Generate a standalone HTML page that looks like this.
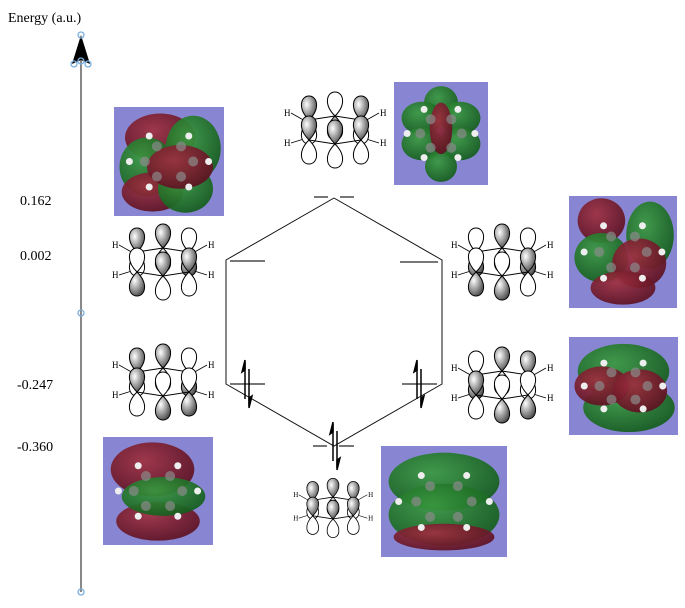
<!DOCTYPE html>
<html><head><meta charset="utf-8"><style>
html,body{margin:0;padding:0;background:#fff;width:685px;height:608px;overflow:hidden}
svg{display:block}
text{font-family:"Liberation Serif",serif}
</style></head><body>
<svg id="s" width="685" height="608" viewBox="0 0 685 608" xmlns="http://www.w3.org/2000/svg">
<defs>
<radialGradient id="sh" cx="0.35" cy="0.35" r="0.8"><stop offset="0" stop-color="#fff"/><stop offset="0.5" stop-color="#999"/><stop offset="1" stop-color="#333"/></radialGradient>
<radialGradient id="rd" cx="0.4" cy="0.35" r="0.7"><stop offset="0" stop-color="#a03040"/><stop offset="1" stop-color="#5a1020"/></radialGradient>
<radialGradient id="gr" cx="0.4" cy="0.35" r="0.7"><stop offset="0" stop-color="#3a9a40"/><stop offset="1" stop-color="#125a1a"/></radialGradient>
</defs>
<text x="8" y="22" font-size="14">Energy (a.u.)</text>
<line x1="81" y1="45" x2="81" y2="592" stroke="#888" stroke-width="2"/>
<polygon points="81,35 72,64 81,60 90,64" fill="#000"/>
<g fill="none" stroke="#7ab0e0" stroke-width="1.3">
<circle cx="81" cy="35" r="3"/><circle cx="74" cy="64" r="3"/><circle cx="81" cy="61" r="3"/><circle cx="88" cy="64" r="3"/>
<circle cx="81" cy="313" r="3"/><circle cx="81" cy="592" r="3"/></g>
<g font-size="14"><text x="20" y="205">0.162</text><text x="20" y="260">0.002</text><text x="17" y="389">-0.247</text><text x="17" y="451">-0.360</text></g>
<polyline points="334,198 226,260 226,384 334,446 442,384 442,260 334,198" fill="none" stroke="#111" stroke-width="1"/>
<g stroke="#777" stroke-width="2">
<line x1="314" y1="197" x2="328" y2="197"/><line x1="340" y1="197" x2="354" y2="197"/>
<line x1="230" y1="261" x2="265" y2="261"/><line x1="400" y1="262" x2="438" y2="262"/>
<line x1="230" y1="384" x2="265" y2="384"/><line x1="402" y1="384" x2="437" y2="384"/>
<line x1="313" y1="446" x2="327" y2="446"/><line x1="339" y1="446" x2="354" y2="446"/></g>
<g id="spins" stroke="#000" stroke-width="1.5" fill="#000"></g>
<g id="mos"></g>
<g id="draws"></g>
</svg>
<script>
var NS="http://www.w3.org/2000/svg";
function el(p,t,a){var e=document.createElementNS(NS,t);for(var k in a)e.setAttribute(k,a[k]);p.appendChild(e);return e;}
var sp=document.getElementById('spins');
[[246,384],[418,384],[334,446]].forEach(function(c){
 var x=c[0],y=c[1];
 el(sp,'line',{x1:x-1,y1:y-22,x2:x-1,y2:y+15});
 el(sp,'polygon',{points:(x-1)+','+(y-24)+' '+(x-4)+','+(y-12)+' '+(x-1)+','+(y-14)});
 el(sp,'line',{x1:x+3,y1:y-15,x2:x+3,y2:y+22});
 el(sp,'polygon',{points:(x+3)+','+(y+24)+' '+(x+6)+','+(y+12)+' '+(x+3)+','+(y+14)});
});
var mo=document.getElementById('mos');
var boxes=[[114,107,110,109],[394,82,94,103],[569,196,108,112],[569,337,109,98],[103,437,110,108],[381,446,126,111]];
var blobs=[
 [[0.42,0.28,0.32,0.22,'rd'],[0.72,0.38,0.25,0.3,'gr'],[0.3,0.55,0.25,0.27,'gr'],[0.35,0.78,0.28,0.18,'rd'],[0.65,0.75,0.25,0.22,'gr'],[0.6,0.55,0.3,0.2,'rd']],
 [[0.5,0.2,0.18,0.16,'gr'],[0.3,0.35,0.22,0.16,'gr'],[0.7,0.35,0.22,0.16,'gr'],[0.3,0.6,0.22,0.16,'gr'],[0.7,0.6,0.22,0.16,'gr'],[0.5,0.82,0.17,0.15,'gr'],[0.5,0.45,0.12,0.25,'rd']],
 [[0.3,0.22,0.22,0.2,'rd'],[0.75,0.35,0.22,0.3,'gr'],[0.3,0.55,0.25,0.22,'gr'],[0.65,0.6,0.25,0.22,'rd'],[0.5,0.82,0.3,0.15,'rd']],
 [[0.5,0.35,0.42,0.28,'gr'],[0.55,0.72,0.42,0.25,'gr'],[0.3,0.5,0.25,0.2,'rd'],[0.65,0.55,0.25,0.22,'rd']],
 [[0.45,0.3,0.38,0.25,'rd'],[0.5,0.78,0.38,0.18,'rd'],[0.55,0.55,0.38,0.18,'gr']],
 [[0.5,0.32,0.44,0.26,'gr'],[0.5,0.62,0.44,0.28,'gr'],[0.5,0.82,0.4,0.12,'rd']]];
boxes.forEach(function(b,i){
 el(mo,'rect',{x:b[0],y:b[1],width:b[2],height:b[3],fill:'#8886d2'});
 blobs[i].forEach(function(q){el(mo,'ellipse',{cx:b[0]+q[0]*b[2],cy:b[1]+q[1]*b[3],rx:q[2]*b[2],ry:q[3]*b[3],fill:'url(#'+q[4]+')','fill-opacity':0.92});});
 for(var k=0;k<6;k++){var a=k*Math.PI/3;el(mo,'circle',{cx:b[0]+b[2]*(0.5+0.22*Math.cos(a)),cy:b[1]+b[3]*(0.5+0.16*Math.sin(a)),r:5,fill:'#8a8a8a','fill-opacity':0.7});
 el(mo,'circle',{cx:b[0]+b[2]*(0.5+0.36*Math.cos(a)),cy:b[1]+b[3]*(0.5+0.27*Math.sin(a)),r:3.5,fill:'#eee'});}
});
var dr=document.getElementById('draws');
var atoms=[[-26,-10],[0,-14],[26,-10],[26,10],[0,14],[-26,10]];
function lobe(g,x,y,dir,sh){
 var L=24,w=8;
 var d='M'+x+','+y+' C'+(x-w*1.5)+','+(y+dir*L*0.5)+' '+(x-w)+','+(y+dir*L)+' '+x+','+(y+dir*L)+' C'+(x+w)+','+(y+dir*L)+' '+(x+w*1.5)+','+(y+dir*L*0.5)+' '+x+','+y+'Z';
 el(g,'path',{d:d,fill:sh?'url(#sh)':'#fff',stroke:'#000','stroke-width':1});
}
function drawing(cx,cy,s,pat){
 var g=el(dr,'g',{transform:'translate('+cx+','+cy+') scale('+s+')'});
 var Hs=[[-48,-14,-36],[-48,16,-36],[48,-14,36],[48,16,36]];
 Hs.forEach(function(h){el(g,'line',{x1:h[0]+(h[0]<0?4:-4),y1:h[1]-3,x2:h[2]-(h[2]<0?-8:8),y2:h[1]>0?8:-8,stroke:'#000','stroke-width':0.8});
 var t=el(g,'text',{x:h[0]-3,y:h[1],'font-size':9,'font-family':'Liberation Sans, sans-serif'});t.textContent='H';});
 var order=[0,1,2,5,4,3];
 order.forEach(function(i,j){var a=atoms[i];var up=pat[i];lobe(g,a[0],a[1],-1,up);lobe(g,a[0],a[1],1,!up);
  if(j==2){el(g,'polygon',{points:atoms.map(function(p){return p.join(',');}).join(' '),fill:'none',stroke:'#000','stroke-width':1});}
 });
}
drawing(163,262,1,[1,1,0,1,1,0]);
drawing(163,382,1,[1,1,0,0,0,1]);
drawing(335,130,1,[1,0,1,1,1,1]);
drawing(502,262,1,[0,1,0,1,0,0]);
drawing(502,385,1,[0,1,1,0,0,1]);
drawing(333,508,0.78,[1,1,1,1,1,1]);
</script>
</body></html>
